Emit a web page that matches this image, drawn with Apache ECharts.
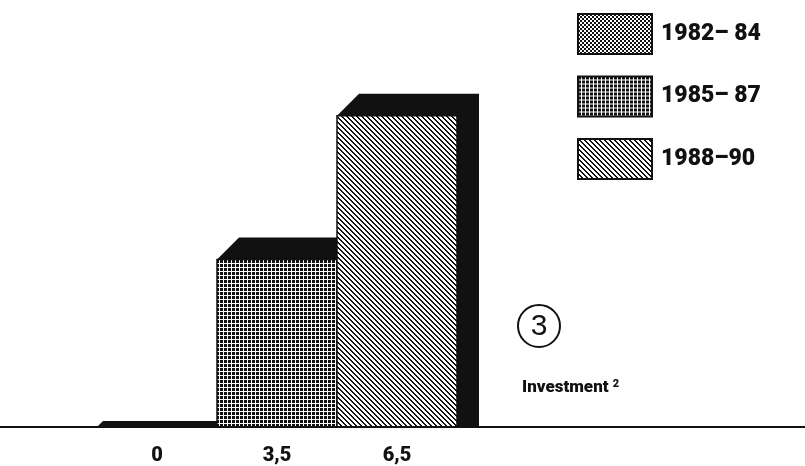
<!DOCTYPE html>
<html>
<head>
<meta charset="utf-8">
<title>Investment</title>
<script src="https://cdn.jsdelivr.net/npm/echarts@6/dist/echarts.min.js"></script>
<style>
  html, body { margin: 0; padding: 0; background: #fff; }
  #main { width: 805px; height: 466px; }
</style>
</head>
<body>
<div id="main"></div>
<script>
// data
var periods = ['1982– 84', '1985– 87', '1988–90']
var investment = [0, 3.5, 6.5]
var patternKinds = ['dots', 'grid', 'diag']

var INK = '#111'
var NARROW = '"Liberation Sans Narrow", Roboto, "DejaVu Sans Condensed", sans-serif'
var DEPTH = 22 // 3d offset of the blocks, px

// small pixel tiles used as fill for the bars and legend swatches
function makePattern(kind) {
  var size = kind === 'diag' ? 5 : 4
  var c = document.createElement('canvas')
  c.width = size
  c.height = size
  var ctx = c.getContext('2d')
  ctx.fillStyle = '#fff'
  ctx.fillRect(0, 0, size, size)
  ctx.fillStyle = INK
  for (var x = 0; x < size; x++) {
    for (var y = 0; y < size; y++) {
      var dark
      if (kind === 'dots') dark = (x < 2) === (y < 2)
      else if (kind === 'grid') dark = x !== 3 && y !== 3
      else dark = ((x - y + size) % size) < 2
      if (dark) ctx.fillRect(x, y, 1, 1)
    }
  }
  return { image: c, repeat: 'repeat' }
}

var patterns = patternKinds.map(makePattern)

function renderBlock(params, api) {
  var idx = api.value(0)
  var top = api.coord([idx, api.value(1)])
  var base = api.coord([idx, 0])
  var w = api.size([1, 0])[0]
  var x0 = base[0] - w / 2
  var x1 = base[0] + w / 2
  var yT = top[1]
  var yB = base[1]
  var d = Math.min(DEPTH, (yB - yT) + 6)
  return {
    type: 'group',
    children: [
      {
        type: 'polygon',
        shape: { points: [[x0, yT], [x0 + d, yT - d], [x1 + d, yT - d], [x1 + d, yB], [x1, yB], [x1, yT]] },
        style: { fill: INK }
      },
      {
        type: 'rect',
        shape: { x: x0, y: yT, width: x1 - x0, height: yB - yT },
        style: { fill: api.visual('color'), stroke: INK, lineWidth: 1.5 }
      }
    ]
  }
}

var chart = echarts.init(document.getElementById('main'))

var series = periods.map(function(name, i) {
  return {
    name: name,
    type: 'custom',
    renderItem: renderBlock,
    clip: false,
    itemStyle: { color: patterns[i], borderColor: INK, borderWidth: 2 },
    encode: { x: 0, y: 1 },
    data: [[i, investment[i]]]
  }
})

var option = {
  backgroundColor: '#fff',
  animation: false,
  grid: { left: 97, right: 348, top: 44, bottom: 39 },
  legend: {
    orient: 'vertical',
    left: 577,
    top: 13,
    padding: 0,
    itemWidth: 74,
    itemHeight: 40,
    itemGap: 20.5,
    icon: 'rect',
    itemStyle: { borderColor: INK, borderWidth: 2 },
    textStyle: {
      fontFamily: NARROW,
      fontSize: 23,
      fontWeight: 900,
      color: INK,
      padding: [0, 0, 0, 4]
    },
    data: periods
  },
  xAxis: {
    type: 'category',
    data: periods,
    axisLine: { show: false },
    axisTick: { show: false },
    axisLabel: {
      margin: 19,
      fontFamily: NARROW,
      fontSize: 20,
      fontWeight: 900,
      color: INK,
      formatter: function(v, i) {
        return String(investment[i]).replace('.', ',')
      }
    }
  },
  yAxis: { type: 'value', min: 0, max: 8, show: false },
  series: series
}

chart.setOption(option)

// full width base line and the annotations
var baseY = chart.convertToPixel({ gridIndex: 0 }, [0, 0])[1]
chart.setOption({
  graphic: [
    {
      type: 'line',
      shape: { x1: 0, y1: baseY, x2: 805, y2: baseY },
      style: { stroke: INK, lineWidth: 2 },
      z: 10
    },
    {
      type: 'group',
      x: 539,
      y: 326,
      children: [
        { type: 'circle', shape: { cx: 0, cy: 0, r: 21 }, style: { fill: 'none', stroke: INK, lineWidth: 2 } },
        {
          type: 'text',
          style: {
            text: '3', x: 0, y: 1, align: 'center', verticalAlign: 'middle',
            font: '30px "Liberation Sans", Arial, sans-serif', fill: INK
          }
        }
      ]
    },
    {
      type: 'text',
      x: 522,
      y: 388,
      style: {
        text: 'Investment {sup|2}',
        verticalAlign: 'middle',
        fontFamily: NARROW,
        fontSize: 17,
        fontWeight: 900,
        fill: INK,
        rich: { sup: { fontSize: 11, fontWeight: 900, fontFamily: NARROW, verticalAlign: 'top', padding: [0, 0, 8, 0] } }
      }
    }
  ]
})
</script>
</body>
</html>
